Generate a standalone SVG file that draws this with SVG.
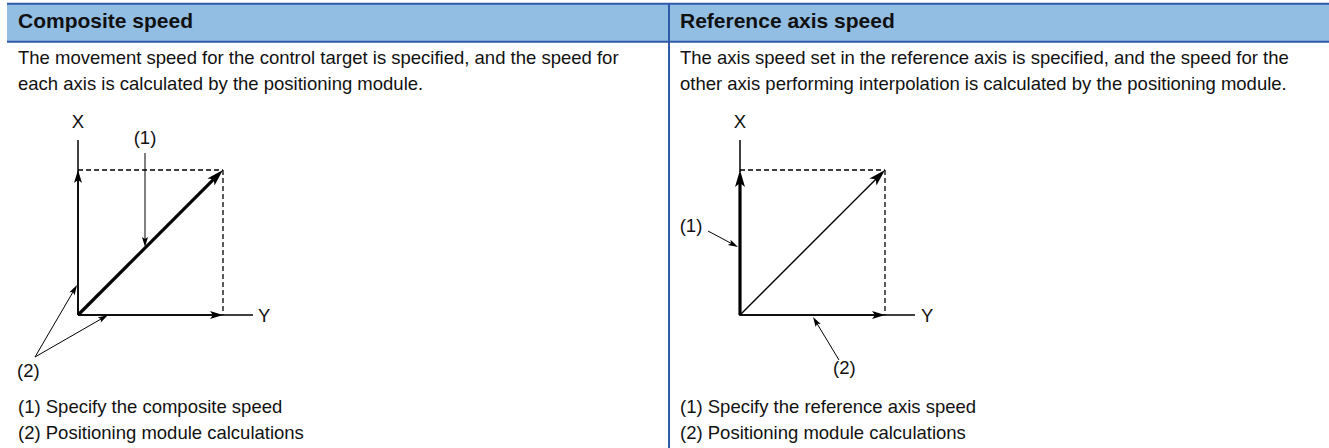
<svg xmlns="http://www.w3.org/2000/svg" width="1329" height="448" viewBox="0 0 1329 448">
  <style>
    .hd { font-family: "Liberation Sans", Arial, sans-serif; font-weight: bold; font-size: 21px; fill: #111; }
    .tx { font-family: "Liberation Sans", Arial, sans-serif; font-size: 18.5px; fill: #111; }
    .lb { font-family: "Liberation Sans", Arial, sans-serif; font-size: 18.5px; fill: #111; }
    .border { stroke: #2F5AAA; stroke-width: 2; fill: none; }
    .axis { stroke: #000; stroke-width: 1.5; fill: none; }
    .dash { stroke: #000; stroke-width: 1.3; stroke-dasharray: 5 3; fill: none; }
    .thick { stroke: #000; stroke-width: 3.2; fill: none; }
    .thin { stroke: #000; stroke-width: 1.4; fill: none; }
    .lead { stroke: #000; stroke-width: 1; fill: none; }
  </style>
  <defs>
    <marker id="mAxis" markerUnits="userSpaceOnUse" orient="auto" refX="0" refY="0" markerWidth="20" markerHeight="20" overflow="visible">
      <path d="M6,0 L-7,-4 L-4,0 L-7,4 Z" fill="#000"/>
    </marker>
    <marker id="mBig" markerUnits="userSpaceOnUse" orient="auto" refX="0" refY="0" markerWidth="20" markerHeight="20" overflow="visible">
      <path d="M8,0 L-9,-5 L-5,0 L-9,5 Z" fill="#000"/>
    </marker>
    <marker id="mLead" markerUnits="userSpaceOnUse" orient="auto" refX="0" refY="0" markerWidth="20" markerHeight="20" overflow="visible">
      <path d="M4,0 L-6,-3 L-4,0 L-6,3 Z" fill="#000"/>
    </marker>
  </defs>

  <g id="table">
    <rect x="7" y="4" width="1322" height="37" fill="#92BEE4"/>
    <line class="border" x1="7" y1="3.7" x2="1329" y2="3.7"/>
    <line class="border" x1="7" y1="41.7" x2="1329" y2="41.7"/>
    <line class="border" x1="669" y1="3" x2="669" y2="448"/>
  </g>

  <g id="col-composite">
    <text class="hd" x="18" y="28">Composite speed</text>
    <text class="tx" x="18" y="64">The movement speed for the control target is specified, and the speed for</text>
    <text class="tx" x="18" y="90">each axis is calculated by the positioning module.</text>
    <text class="tx" x="18" y="413">(1) Specify the composite speed</text>
    <text class="tx" x="18" y="439">(2) Positioning module calculations</text>
  </g>

  <g id="col-reference">
    <text class="hd" x="680" y="28">Reference axis speed</text>
    <text class="tx" x="680" y="64">The axis speed set in the reference axis is specified, and the speed for the</text>
    <text class="tx" x="680" y="90">other axis performing interpolation is calculated by the positioning module.</text>
    <text class="tx" x="680" y="413">(1) Specify the reference axis speed</text>
    <text class="tx" x="680" y="439">(2) Positioning module calculations</text>
  </g>

  <g id="diagram-left">
    <text class="lb" x="78" y="128" text-anchor="middle">X</text>
    <text class="lb" x="258" y="322">Y</text>
    <text class="lb" x="145" y="144" text-anchor="middle">(1)</text>
    <text class="lb" x="17" y="377">(2)</text>
  </g>

  <g id="diagram-right">
    <text class="lb" x="740" y="128" text-anchor="middle">X</text>
    <text class="lb" x="921" y="322">Y</text>
    <text class="lb" x="691" y="232" text-anchor="middle">(1)</text>
    <text class="lb" x="833" y="374">(2)</text>
  </g>

  <g id="connectors">
    <!-- left diagram -->
    <line class="axis" x1="78" y1="140" x2="78" y2="315"/>
    <line class="axis" x1="78" y1="315" x2="78" y2="176" marker-end="url(#mAxis)"/>
    <line class="axis" x1="78" y1="315" x2="253" y2="315"/>
    <line class="axis" x1="78" y1="315" x2="217" y2="315" marker-end="url(#mAxis)"/>
    <line class="dash" x1="78" y1="170" x2="223" y2="170"/>
    <line class="dash" x1="223" y1="170" x2="223" y2="315"/>
    <line class="thick" x1="78" y1="315" x2="217.3" y2="175.7" marker-end="url(#mBig)"/>
    <line class="lead" x1="145" y1="153" x2="145" y2="243" marker-end="url(#mLead)"/>
    <line class="lead" x1="35" y1="357" x2="75" y2="288.5" marker-end="url(#mLead)"/>
    <line class="lead" x1="35" y1="357" x2="104.5" y2="317" marker-end="url(#mLead)"/>

    <!-- right diagram -->
    <line class="axis" x1="740" y1="140" x2="740" y2="172"/>
    <line class="thick" x1="740" y1="315" x2="740" y2="178" marker-end="url(#mBig)"/>
    <line class="axis" x1="739" y1="315" x2="915" y2="315"/>
    <line class="axis" x1="740" y1="315" x2="879" y2="315" marker-end="url(#mAxis)"/>
    <line class="dash" x1="740" y1="170" x2="885" y2="170"/>
    <line class="dash" x1="885" y1="170" x2="885" y2="315"/>
    <line class="thin" x1="740" y1="315" x2="879.3" y2="175.7" marker-end="url(#mBig)"/>
    <line class="lead" x1="708" y1="231" x2="734.5" y2="245.1" marker-end="url(#mLead)"/>
    <line class="lead" x1="839" y1="360" x2="815.1" y2="320.4" marker-end="url(#mLead)"/>
  </g>
</svg>
